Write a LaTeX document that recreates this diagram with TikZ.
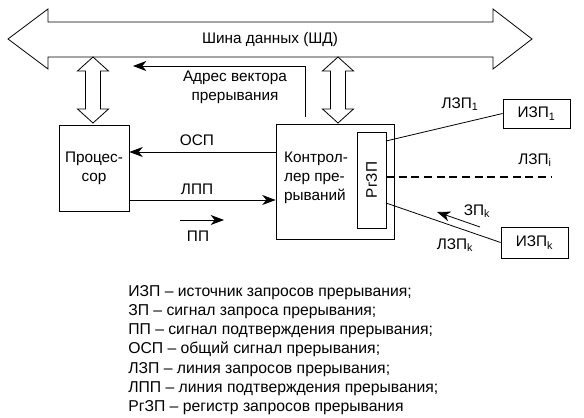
\documentclass[tikz,border=0pt]{standalone}
\usepackage{fontspec}
\setmainfont{Liberation Sans}
\usetikzlibrary{arrows.meta}

\begin{document}
\begin{tikzpicture}[x=0.75pt, y=-0.75pt,
    font=\fontsize{11.5}{14.4}\selectfont,
    box/.style={draw, line width=0.6pt, inner sep=0pt},
    wide/.style={draw, line width=0.6pt, line join=miter},
    sig/.style={line width=0.6pt, -{Stealth[length=10pt, width=7.5pt, inset=3pt]}},
    lbl/.style={inner sep=1pt}]
\useasboundingbox (0,0) rectangle (584,417);

% шина данных
\draw[wide] (8,39) -- (48,9) -- (48,22) -- (493,22) -- (493,9) -- (532,39)
    -- (493,69) -- (493,57) -- (48,57) -- (48,69) -- cycle;
\node[lbl] (bus) at (270,40) {Шина данных (ШД)};

% блоки
\node[box, minimum width=52.5pt, minimum height=64.5pt] (proc) at (94,168) {};
\node[lbl, align=center] (proctext) at (proc) {Процес-\\сор};
\node[box, minimum width=88.5pt, minimum height=86.25pt] (ctrl) at (335,181.5) {};
\node[lbl, align=left] (ctrltext) at (316,178) {Контрол-\\лер пре-\\рываний};
\node[box, minimum width=21.75pt, minimum height=72pt] (rg) at (371.5,180) {};
\node[lbl, rotate=90] (rgtext) at (rg) {РгЗП};
\node[box, minimum width=50.25pt, minimum height=21.75pt] (izp1) at (536.5,113.5) {ИЗП\textsubscript{1}};
\node[box, minimum width=50.25pt, minimum height=23.25pt] (izpk) at (534.5,242.5) {ИЗП\textsubscript{k}};

% обмен с шиной
\draw[wide] (93,57) -- ++(15.5,14) -- ++(-8,0) -- ++(0,38) -- ++(8,0) -- ++(-15.5,14)
    -- ++(-15.5,-14) -- ++(8,0) -- ++(0,-38) -- ++(-8,0) -- cycle;
\draw[wide] (338,57) -- ++(15.5,14) -- ++(-8,0) -- ++(0,38) -- ++(8,0) -- ++(-15.5,14)
    -- ++(-15.5,-14) -- ++(8,0) -- ++(0,-38) -- ++(-8,0) -- cycle;

% адрес вектора
\coordinate (adr) at (305,117);
\coordinate (adrtip) at (133,66);
\draw[sig] (adr) |- (adrtip);
\node[lbl, align=center] (adrtext) at (235,87) {Адрес вектора\\прерывания};

% сигналы
\coordinate (osp) at (200,152);
\coordinate (lpp) at (200,200);
\draw[sig] (ctrl.west |- osp) -- (proc.east |- osp);
\node[lbl] (osptext) at (197,140) {ОСП};
\draw[sig] (proc.east |- lpp) -- (ctrl.west |- lpp);
\node[lbl] (lpptext) at (197,189) {ЛПП};
\coordinate (ppa) at (180,220);
\coordinate (ppb) at (224,220);
\draw[sig] (ppa) -- (ppb);
\node[lbl] (pptext) at (198,236) {ПП};

% линии запросов
\coordinate (l1) at (386,141);
\coordinate (li) at (386,177);
\coordinate (lie) at (552,177);
\coordinate (lk) at (386,203);
\draw[line width=0.6pt] (l1) -- (izp1.west);
\node[lbl] (l1text) at (460,104) {ЛЗП\textsubscript{1}};
\draw[line width=1.8pt, dash pattern=on 6pt off 3.5pt] (li) -- (lie);
\node[lbl] (litext) at (535,160) {ЛЗП\textsubscript{i}};
\draw[line width=0.6pt] (lk) -- (izpk.west);
\node[lbl] (lktext) at (455,245) {ЛЗП\textsubscript{k}};
\coordinate (zpa) at (480,227);
\coordinate (zpb) at (437,212);
\draw[sig] (zpa) -- (zpb);
\node[lbl] (zptext) at (477,211) {ЗП\textsubscript{k}};

% обозначения
\node[inner sep=0pt, anchor=north west, align=left,
      font=\fontsize{11.8}{14.4}\selectfont] (legend) at (128,285)
    {ИЗП – источник запросов прерывания;\\
     ЗП – сигнал запроса прерывания;\\
     ПП – сигнал подтверждения прерывания;\\
     ОСП – общий сигнал прерывания;\\
     ЛЗП – линия запросов прерывания;\\
     ЛПП – линия подтверждения прерывания;\\
     РгЗП – регистр запросов прерывания};
\end{tikzpicture}
\end{document}
